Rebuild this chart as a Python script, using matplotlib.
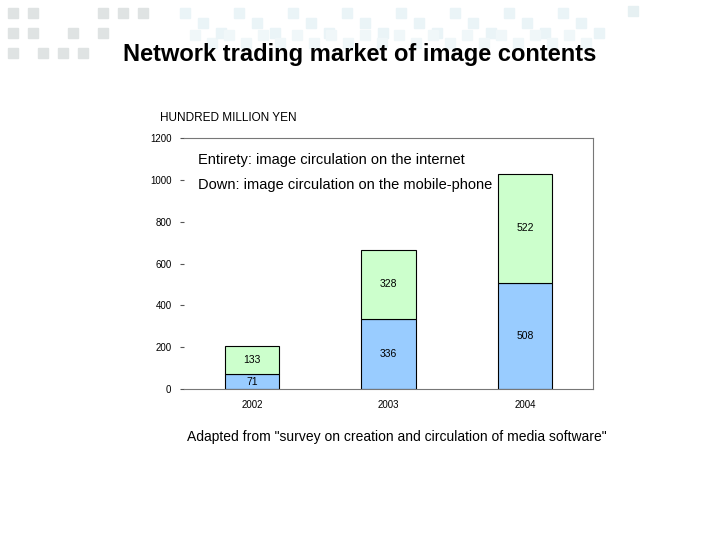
import matplotlib
matplotlib.use("Agg")
import matplotlib.pyplot as plt
from matplotlib.patches import Rectangle

# ---------------------------------------------------------------------------
# Dados
# ---------------------------------------------------------------------------
years = ["2002", "2003", "2004"]
mobile = [71, 336, 508]        # parte de baixo (celular)
internet = [133, 328, 522]     # parte de cima (internet)
yticks = [0, 200, 400, 600, 800, 1000, 1200]

BLUE = "#99CCFF"
GREEN = "#CCFFCC"

plt.rcParams["font.family"] = ["Liberation Sans", "DejaVu Sans"]

fig = plt.figure(figsize=(7.2, 5.4), dpi=100)

# --- decoracao de fundo (quadradinhos no topo) ---
deco = [
    (8, 8, "#dfe3e3"), (28, 8, "#dfe3e3"), (98, 8, "#dfe3e3"), (118, 8, "#dfe3e3"),
    (138, 8, "#dfe3e3"), (8, 28, "#dfe3e3"), (28, 28, "#dfe3e3"), (68, 28, "#dfe3e3"),
    (98, 28, "#dfe3e3"), (8, 48, "#dfe3e3"), (38, 48, "#dfe3e3"), (58, 48, "#dfe3e3"),
    (78, 48, "#dfe3e3"), (628, 6, "#e6f0f2"),
]
for i in range(24):
    deco.append((180 + i * 18, 8 + (i % 3) * 10, "#eaf4f7"))
    deco.append((190 + i * 17, 30 + (i % 2) * 8, "#f0f7f9"))
for x, y, c in deco:
    fig.add_artist(Rectangle((x / 720, 1 - (y + 10) / 540), 10 / 720, 10 / 540,
                             transform=fig.transFigure, color=c, zorder=0))

fig.text(0.5, 1 - 55 / 540, "Network trading market of image contents",
         ha="center", va="center", fontsize=17, fontweight="bold")

ax = fig.add_axes([184 / 720, 1 - 389 / 540, 409 / 720, 251 / 540])
x = range(len(years))
ax.bar(x, mobile, width=0.40, color=BLUE, edgecolor="black", linewidth=0.8)
ax.bar(x, internet, width=0.40, bottom=mobile, color=GREEN,
       edgecolor="black", linewidth=0.8)

for xi, m, n in zip(x, mobile, internet):
    ax.text(xi, m / 2, str(m), ha="center", va="center", fontsize=7.5)
    ax.text(xi, m + n / 2, str(n), ha="center", va="center", fontsize=7.5)

ax.set_xlim(-0.5, 2.5)
ax.set_ylim(0, 1200)
ax.set_yticks(yticks)
ax.set_yticklabels([str(v) for v in yticks], fontsize=7)
ax.set_xticks(list(x))
ax.set_xticklabels(years, fontsize=7)
ax.tick_params(axis="x", length=0, pad=8)
ax.tick_params(axis="y", length=3, pad=6, color="#555555")

ax.spines["left"].set_visible(False)
for s in ("top", "right", "bottom"):
    ax.spines[s].set_color("#777777")
    ax.spines[s].set_linewidth(0.8)

ax.text(198 / 720, 1 - 160 / 540, "Entirety: image circulation on the internet",
        transform=fig.transFigure, ha="left", va="center", fontsize=10.5)
ax.text(198 / 720, 1 - 185 / 540, "Down: image circulation on the mobile-phone",
        transform=fig.transFigure, ha="left", va="center", fontsize=10.5)

fig.text(160 / 720, 1 - 118 / 540, "HUNDRED MILLION YEN",
         ha="left", va="center", fontsize=8.5)
fig.text(187 / 720, 1 - 437 / 540,
         'Adapted from "survey on creation and circulation of media software"',
         ha="left", va="center", fontsize=10)

fig.savefig("out.png", dpi=100)
plt.close(fig)
